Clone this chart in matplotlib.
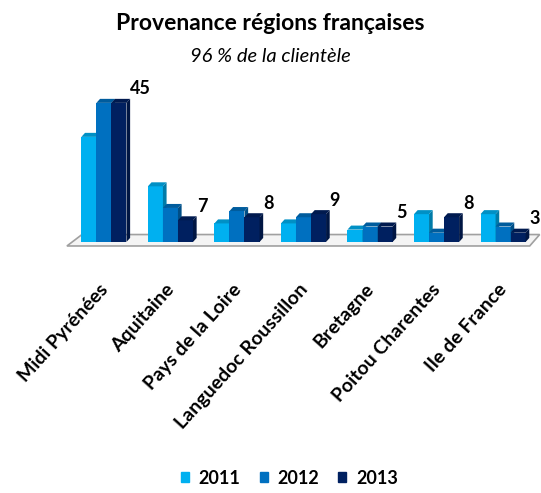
import numpy as np
import matplotlib
matplotlib.use('Agg')
import matplotlib.pyplot as plt
from matplotlib.patches import Polygon
from matplotlib.colors import to_rgb

plt.rcParams['font.family'] = ['Lato', 'DejaVu Sans']

regions = ['Midi Pyrénées', 'Aquitaine', 'Pays de la Loire', 'Languedoc Roussillon',
           'Bretagne', 'Poitou Charentes', 'Ile de France']
years = ['2011', '2012', '2013']
v2011 = [34, 18, 6, 6, 4, 9, 9]
v2012 = [45, 11, 10, 8, 5, 3, 5]
v2013 = [45, 7, 8, 9, 5, 8, 3]
colors = ['#00b0f0', '#0070c0', '#002060']

def shade(c, f):
    r, g, b = to_rgb(c)
    return (r * f, g * f, b * f)

fig = plt.figure(figsize=(5.41, 4.93), dpi=100)
ax = fig.add_axes([60 / 541, 1 - 250 / 493, 481 / 541, 170 / 493])
ax.set_xlim(-0.66, 6.57)
ax.set_ylim(-2.6, 52.4)
ax.axis('off')

x = np.arange(len(regions))
w = 0.226
dx, dy = 0.055, 1.3

# floor
floor = Polygon([(-0.556, -1.3), (6.40, -1.3), (6.55, 2.4), (-0.33, 2.4)],
                closed=True, facecolor='#f4f4f4', edgecolor='#a0a0a0', lw=1.2, zorder=1)
ax.add_patch(floor)

series = [v2011, v2012, v2013]
for k, vals in enumerate(series):
    xs = x + (k - 1) * w
    for xi, v in zip(xs, vals):
        l, r = xi - w / 2, xi + w / 2
        ax.add_patch(Polygon([(l, 0), (r, 0), (r, v), (l, v)], closed=True,
                             facecolor=colors[k], edgecolor='none', zorder=3 + k))
        ax.add_patch(Polygon([(l, v), (r, v), (r + dx, v + dy), (l + dx, v + dy)], closed=True,
                             facecolor=shade(colors[k], 0.82), edgecolor='none', zorder=3 + k))
        ax.add_patch(Polygon([(r, 0), (r + dx, dy), (r + dx, v + dy), (r, v)], closed=True,
                             facecolor=shade(colors[k], 0.7), edgecolor='none', zorder=3 + k))

for xi, v in zip(x + w, v2013):
    ax.text(xi + w / 2 + 0.055, v + 1.8, str(v), fontsize=13, fontweight='bold',
            ha='left', va='bottom', zorder=10, clip_on=False)

for xi, name in zip(x, regions):
    ax.text(xi - 0.08, -12.5, name, rotation=48, ha='right', va='top',
            rotation_mode='anchor', fontsize=14, fontweight='bold', zorder=10, clip_on=False)

fig.text(0.5, 1 - 23 / 493, 'Provenance régions françaises', ha='center', va='center',
         fontsize=16.5, fontweight='bold')
fig.text(0.5, 1 - 56 / 493, '96 % de la clientèle', ha='center', va='center',
         fontsize=14.5, fontstyle='italic')

handles = [plt.Rectangle((0, 0), 1, 1, color=c) for c in colors]
fig.legend(handles, years, loc='center', bbox_to_anchor=(0.535, 1 - 478 / 493), ncol=3,
           frameon=False, prop={'size': 13, 'weight': 'bold'}, handlelength=0.45,
           handleheight=0.45, handletextpad=0.55, columnspacing=1.05)

fig.savefig('out.png', dpi=100)
